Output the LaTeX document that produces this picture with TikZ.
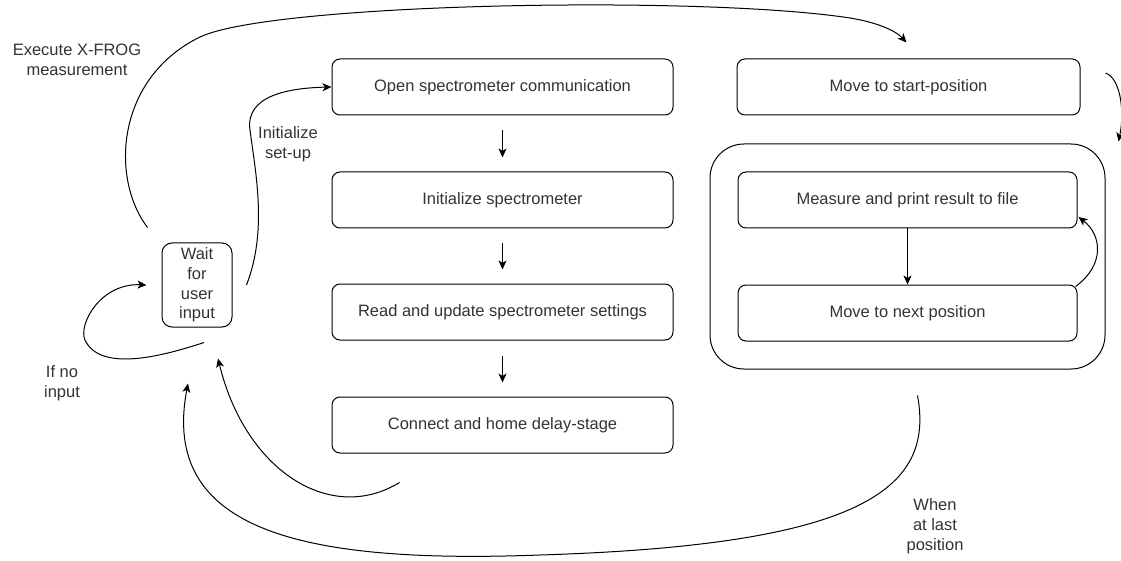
\documentclass[tikz,border=0pt]{standalone}
\usepackage{fontspec}
\setmainfont{Liberation Sans}
\usetikzlibrary{arrows.meta,calc}

\tikzset{
  txt/.style={font=\fontsize{16.5}{19.8}\selectfont, text=black!80, align=center},
  stepbox/.style={txt, draw=black, line width=1pt, rounded corners=8pt,
    minimum width=341pt, minimum height=56pt, inner sep=0pt},
  lbl/.style={txt, inner sep=0pt},
  link/.style={line width=1pt, draw=black},
  arr/.style={link, -{Stealth[length=9pt,width=8pt,inset=2.5pt]}},
}

\begin{document}
\begin{tikzpicture}[x=1pt,y=-1pt]
\useasboundingbox (0,0) rectangle (1121,561);

% set-up chain
\node[stepbox] (open)    at (502.5,87)  {Open spectrometer communication};
\node[stepbox] (init)    at (502.5,200) {Initialize spectrometer};
\node[stepbox] (read)    at (502.5,312) {Read and update spectrometer settings};
\node[stepbox] (connect) at (502.5,425) {Connect and home delay-stage};

% idle state
\node[stepbox, minimum width=70pt, minimum height=84pt, rounded corners=10pt]
  (wait) at (197,285) {Wait\\for\\user\\input};

% measurement part
\node[stepbox, minimum width=343pt] (start) at (908.5,87) {Move to start-position};
\node[draw=black, line width=1pt, rounded corners=34pt, minimum width=395pt,
  minimum height=225pt, inner sep=0pt] (container) at (907.5,256.5) {};
\node[stepbox, minimum width=339pt] (measure) at (907.5,200) {Measure and print result to file};
\node[stepbox, minimum width=339pt] (next)    at (907.5,313) {Move to next position};

% labels
\node[lbl] (lexec) at (77,60)   {Execute X-FROG\\measurement};
\node[lbl] (linit) at (288,144) {Initialize\\set-up};
\node[lbl] (lno)   at (62,383)  {If no\\input};
\node[lbl] (llast) at (935,526) {When\\at last\\position};

% straight arrows
\draw[arr, shorten <=15pt, shorten >=14pt] (open) -- (init);
\draw[arr, shorten <=15pt, shorten >=14pt] (init) -- (read);
\draw[arr, shorten <=15pt, shorten >=14pt] (read) -- (connect);
\draw[arr] (measure) -- (next);

% loop inside the scan
\draw[arr] ($(next.north east)+(-2,2)$) .. controls (1105,265) and (1102,235) .. ($(measure.east)+(1,17)$);

% start measurement
\draw[arr] ($(wait.north west)+(-14,-15)$) .. controls (110,178) and (116,78) .. (200,37)
  .. controls (272,3) and (700,-5) .. (850,18)
  .. controls (875,22) and (895,30) .. ($(start.north)+(-2,-16)$);

\draw[arr] ($(start.east)+(25,-14)$) .. controls (1120,78) and (1125,110) .. ($(container.north east)+(13,-2)$);

% initialize set-up
\draw[arr] ($(wait.east)+(14,0)$) .. controls (268,230) and (255,170) .. (250,130)
  .. controls (245,95) and (290,88) .. (open.west);

% no input
\draw[arr] ($(wait.south)+(7,15)$) .. controls (160,357) and (100,372) .. (85,340)
  .. controls (78,325) and (100,283) .. ($(wait.west)+(-15,0)$);

% back from set-up
\draw[arr] ($(connect.south)+(-103,29)$) .. controls (330,525) and (245,470) .. ($(wait.south)+(21,31)$);

% back after last position
\draw[arr] ($(container.south)+(10,26)$) .. controls (935,490) and (860,545) .. (540,555)
  .. controls (300,564) and (160,530) .. ($(wait.south)+(-9,56)$);
\end{tikzpicture}
\end{document}
